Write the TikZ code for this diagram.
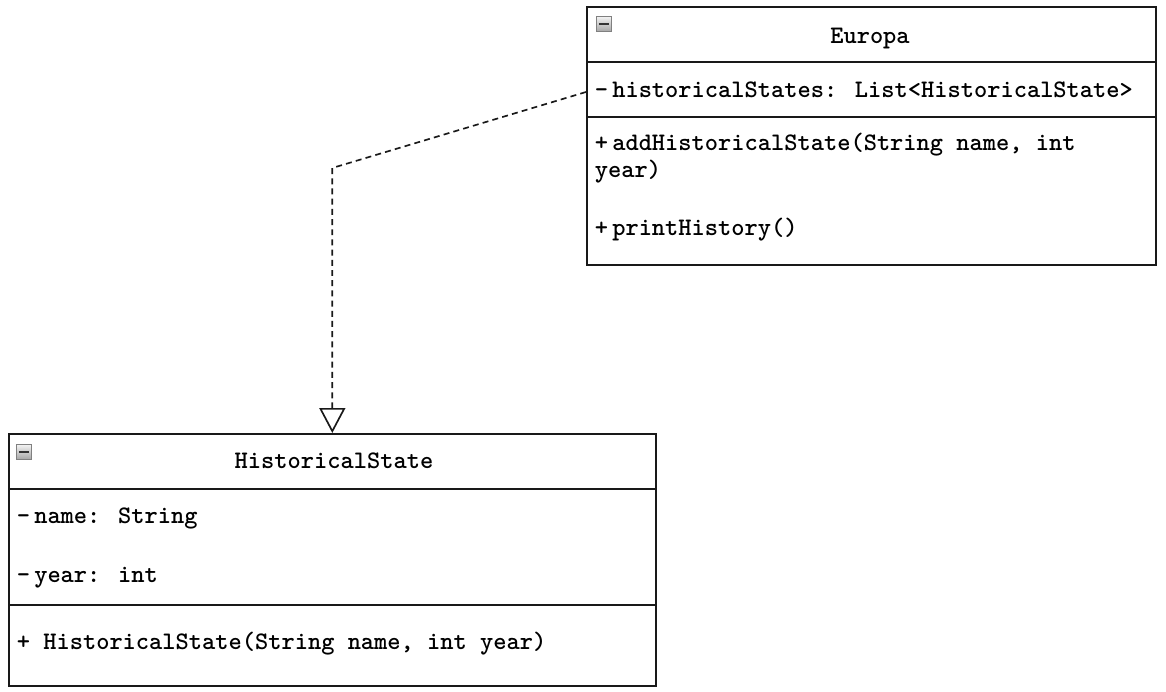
\documentclass[tikz,border=0pt]{standalone}
\usepackage{fontspec}
\usepackage{tikz}
\usetikzlibrary{arrows.meta, positioning}

\newcommand{\umlfont}{\ttfamily\bfseries\fontsize{14.35}{17}\selectfont}

\begin{document}
\begin{tikzpicture}[
  x=0.02cm, y=-0.02cm,
  classbox/.style={rectangle, draw=black!90, line width=1pt, anchor=north west, inner sep=0pt},
  divider/.style={draw=black!90, line width=1pt},
  classname/.style={font=\umlfont, anchor=base, inner sep=1pt},
  member/.style={font=\umlfont, anchor=base west, inner xsep=0.17cm, inner ysep=1pt},
  toggle/.style={rectangle, draw=black!50, top color=black!5, bottom color=black!35,
                 minimum size=0.3cm, inner sep=0pt, line width=0.5pt,
                 path picture={\draw[line width=1.4pt, black!80]
                   ([xshift=1.4pt]path picture bounding box.west) -- ([xshift=-1.4pt]path picture bounding box.east);}},
  realization/.style={-{Triangle[open, width=0.52cm, length=0.5cm]}, line width=0.95pt,
                      dash pattern=on 3.4pt off 2.4pt, draw=black!90}
]
  \useasboundingbox (0,0) rectangle (1166,692);

  % Europa
  \node[classbox, minimum width=11.38cm, minimum height=5.16cm] (europa) at (586,6) {};
  \node[toggle] (etoggle) at (604,24) {};
  \node[classname] (etitle) at (870,44) {Europa};
  \draw[divider] (europa.west |- 0,62) -- (europa.east |- 0,62);
  \node[member] (eattr) at (586,98) {-\,historicalStates: List<HistoricalState>};
  \draw[divider] (europa.west |- 0,117) -- (europa.east |- 0,117);
  \node[member] (eadd) at (586,151) {+\,addHistoricalState(String name, int};
  \node[member] (eaddb) at (586,178) {year)};
  \node[member] (eprint) at (586,236) {+\,printHistory()};

  % HistoricalState
  \node[classbox, minimum width=12.94cm, minimum height=5.04cm] (hist) at (8,433) {};
  \node[toggle] (htoggle) at (24,452) {};
  \node[classname] (htitle) at (334,468) {HistoricalState};
  \draw[divider] (hist.west |- 0,489) -- (hist.east |- 0,489);
  \node[member] (hname) at (8,523) {-\,name: String};
  \node[member] (hyear) at (8,582) {-\,year: int};
  \draw[divider] (hist.west |- 0,605) -- (hist.east |- 0,605);
  \node[member] (hctor) at (8,649) {+ HistoricalState(String name, int year)};

  % realization
  \coordinate (bend) at (hist.north |- 0,168);
  \draw[realization] (eattr.west |- 0,92) -- (bend) -- (hist.north);
\end{tikzpicture}
\end{document}
